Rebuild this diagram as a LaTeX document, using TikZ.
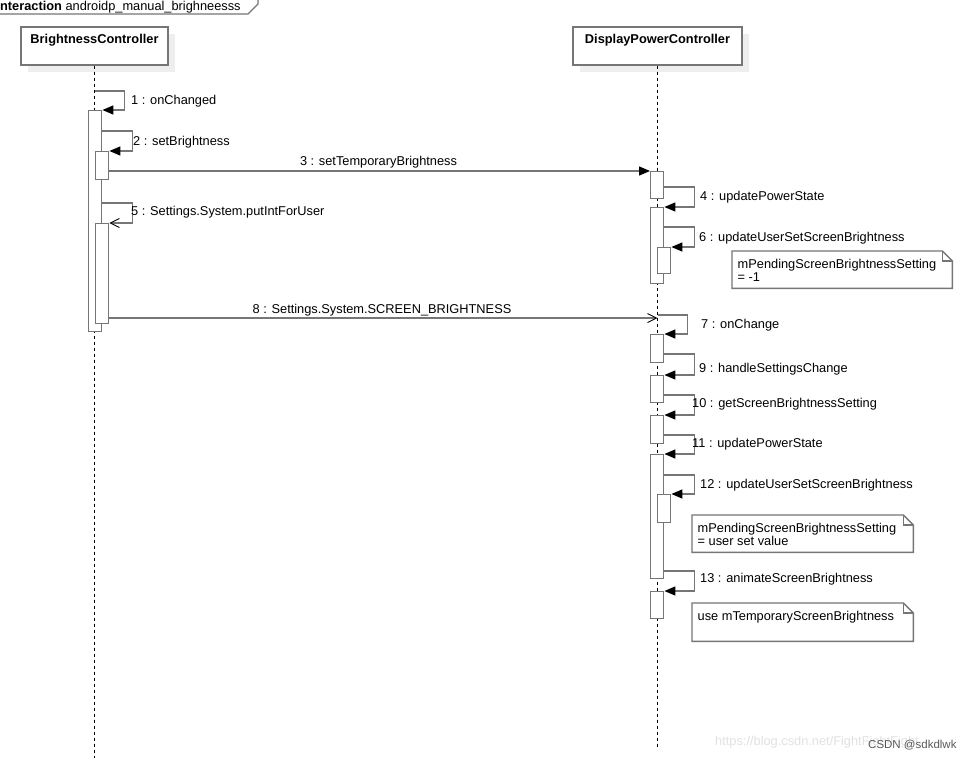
\documentclass[tikz,border=0pt]{standalone}
\usepackage{fontspec}
\setmainfont{Liberation Sans}
\usetikzlibrary{arrows.meta}
\usetikzlibrary{shadows}
\usetikzlibrary{calc}

\definecolor{linegray}{RGB}{118,118,118}
\definecolor{shadowgray}{RGB}{238,238,238}
\definecolor{markgray}{RGB}{226,226,226}

\tikzset{
  head/.style={draw=linegray, fill=white, line width=1.4pt, minimum width=147pt, inner ysep=3pt, text height=13.5pt, text depth=18.5pt, font=\fontsize{12.8}{13}\selectfont\bfseries, drop shadow={shadow xshift=7pt, shadow yshift=-7pt, fill=shadowgray, opacity=1}},
  life/.style={black, line width=0.8pt, dash pattern=on 3pt off 3pt},
  act/.style={draw=linegray, fill=white, line width=1.4pt, minimum width=13pt, inner sep=0pt, anchor=north west},
  call/.style={linegray, line width=1.4pt, -{Triangle[length=11pt,width=9pt,color=black]}},
  signal/.style={linegray, line width=1.4pt, -{Straight Barb[length=9pt,width=9pt,color=black,line width=0.9pt]}},
  lbl/.style={anchor=base west, inner sep=0pt},
  notebox/.style={inner sep=0pt, anchor=north west},
  notetext/.style={inner sep=0pt, anchor=north west, align=left},
  noteline/.style={linegray, line width=1.4pt},
}

\newcommand{\drawnote}[1]{%
  \draw[noteline] (#1.north west) -- ([xshift=-10pt]#1.north east) -- ([yshift=-10pt]#1.north east) -- (#1.south east) -- (#1.south west) -- cycle;
  \draw[noteline] ([xshift=-10pt]#1.north east) -- ++(0,10) -- ([yshift=-10pt]#1.north east);}

\begin{document}
\begin{tikzpicture}[x=1pt, y=-1pt, font=\fontsize{12.8}{13}\selectfont]
            \useasboundingbox[fill=white] (0,0) rectangle (977,758);

            \draw[linegray, line width=1.4pt] (-5,14) -- (248,14) -- (258,4) -- (258,-5);
            \node[lbl] (frame) at (-3.6,10) {\textbf{interaction} androidp\_manual\_brighneesss};

            \node[head] (bc) at (94.5,46) {BrightnessController};
            \node[head, minimum width=169pt] (dpc) at (657.5,46) {DisplayPowerController};
            \coordinate (bcEnd) at (94.5,758);
            \coordinate (dpcEnd) at (657.5,747);
            \draw[life] (bc.south) -- (bcEnd);
            \draw[life] (dpc.south) -- (dpcEnd);

            \node[act, minimum height=221pt] (bcA1) at (88,110) {};
            \node[act, minimum height=28pt] (bcA2) at (95,151) {};
            \node[act, minimum height=100pt] (bcA3) at (95,223) {};

            \node[act, minimum height=27pt] (dpB1) at (650,171) {};
            \node[act, minimum height=76pt] (dpB2) at (650,207) {};
            \node[act, minimum height=26pt] (dpB3) at (657,247) {};
            \node[act, minimum height=28pt] (dpC1) at (650,334) {};
            \node[act, minimum height=27pt] (dpC2) at (650,375) {};
            \node[act, minimum height=28pt] (dpC3) at (650,415) {};
            \node[act, minimum height=124pt] (dpC4) at (650,454) {};
            \node[act, minimum height=28pt] (dpC5) at (657,494) {};
            \node[act, minimum height=27pt] (dpC6) at (650,591) {};

            \draw[call] (bc.south |- 0,91) -- ++(30,0) |- (bcA1.north east);
            \draw[call] (bcA1.east |- 0,131) -- ++(30,0) |- (bcA2.north east);
            \draw[call] (bcA2.east |- 0,171) -- (dpB1.north west);
            \draw[signal] (bcA1.east |- 0,203) -- ++(30,0) |- (bcA3.north east);
            \draw[call] (dpB1.east |- 0,187) -- ++(30,0) |- (dpB2.north east);
            \draw[call] (dpB2.east |- 0,227) -- ++(30,0) |- (dpB3.north east);
            \draw[signal] (bcA3.east |- 0,318) -- (dpc.south |- 0,318);
            \draw[call] (dpc.south |- 0,315) -- ++(30,0) |- (dpC1.north east);
            \draw[call] (dpC1.east |- 0,354) -- ++(30,0) |- (dpC2.north east);
            \draw[call] (dpC2.east |- 0,395) -- ++(30,0) |- (dpC3.north east);
            \draw[call] (dpC3.east |- 0,435) -- ++(30,0) |- (dpC4.north east);
            \draw[call] (dpC4.east |- 0,475) -- ++(30,0) |- (dpC5.north east);
            \draw[call] (dpC4.east |- 0,571) -- ++(30,0) |- (dpC6.north east);

            \node[lbl] (m1) at (131,104) {1 : onChanged};
            \node[lbl] (m2) at (133,145) {2 : setBrightness};
            \node[lbl, anchor=base] (m3) at (378.5,165) {3 : setTemporaryBrightness};
            \node[lbl] (m4) at (700,200) {4 : updatePowerState};
            \node[lbl] (m5) at (131,215) {5 : Settings.System.putIntForUser};
            \node[lbl] (m6) at (699,241) {6 : updateUserSetScreenBrightness};
            \node[lbl] (m7) at (701,328) {7 : onChange};
            \node[lbl, anchor=base] (m8) at (382,313) {8 : Settings.System.SCREEN\_BRIGHTNESS};
            \node[lbl] (m9) at (699,372) {9 : handleSettingsChange};
            \node[lbl] (m10) at (692,407) {10 : getScreenBrightnessSetting};
            \node[lbl] (m11) at (692,447) {11 : updatePowerState};
            \node[lbl] (m12) at (700,488) {12 : updateUserSetScreenBrightness};
            \node[lbl] (m13) at (700,582) {13 : animateScreenBrightness};

            \node[notebox, minimum width=220pt, minimum height=37pt] (note1) at (732,251) {};
            \drawnote{note1}
            \node[notetext] (note1text) at ([shift={(5.5,8)}]note1.north west) {mPendingScreenBrightnessSetting\\= -1};
            \node[notebox, minimum width=221pt, minimum height=37pt] (note2) at (692,515) {};
            \drawnote{note2}
            \node[notetext] (note2text) at ([shift={(5.5,8)}]note2.north west) {mPendingScreenBrightnessSetting\\= user set value};
            \node[notebox, minimum width=221pt, minimum height=38pt] (note3) at (692,603) {};
            \drawnote{note3}
            \node[notetext] (note3text) at ([shift={(5.5,8)}]note3.north west) {use mTemporaryScreenBrightness};

            \node[lbl, text=markgray] (blogmark) at (715,745) {https://blog.csdn.net/FightFightFight};
            \node[lbl, text=black!65, font=\fontsize{11.5}{12}\selectfont] (csdnmark) at (868,748) {CSDN @sdkdlwk};
        \end{tikzpicture}
\end{document}
